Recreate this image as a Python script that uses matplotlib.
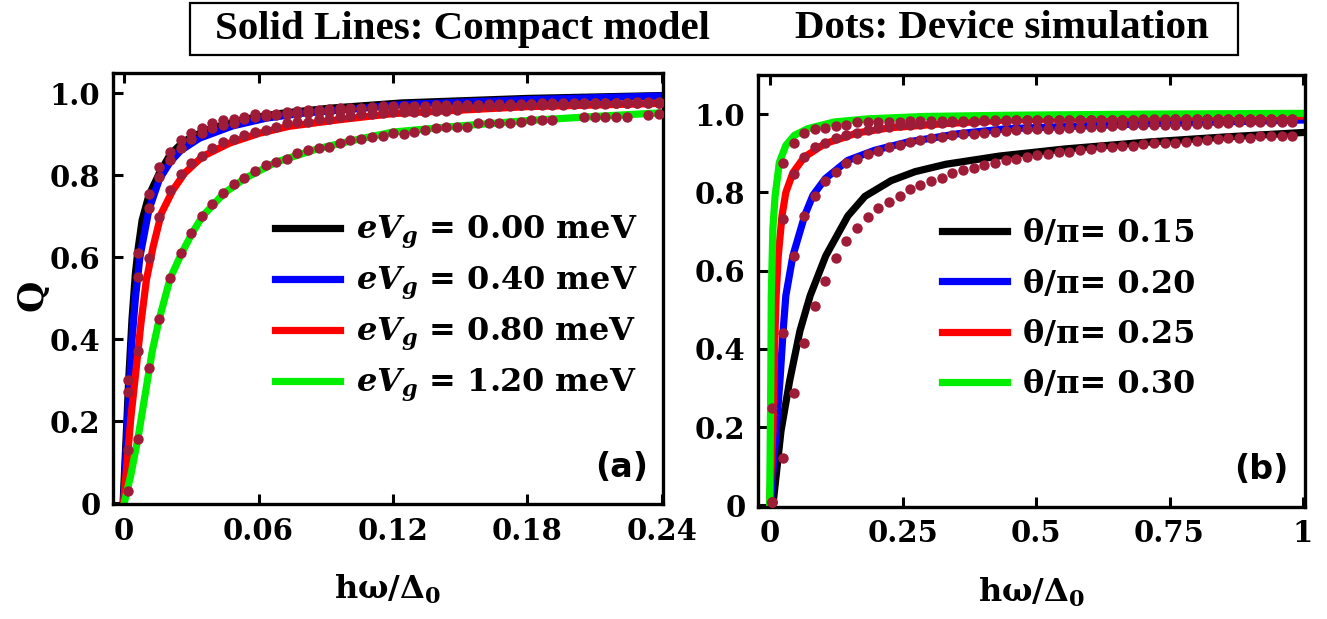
import numpy as np
import matplotlib
matplotlib.use('Agg')
import matplotlib.pyplot as plt
from matplotlib.patches import Rectangle

plt.rcParams['font.family'] = 'DejaVu Serif'
plt.rcParams['font.weight'] = 'bold'
plt.rcParams['mathtext.fontset'] = 'custom'
plt.rcParams['mathtext.rm'] = 'DejaVu Serif:bold'
plt.rcParams['mathtext.it'] = 'DejaVu Serif:italic:bold'
plt.rcParams['mathtext.bf'] = 'DejaVu Serif:bold'

nan = np.nan

# ---------------- panel (a): Q vs hw/D0 for several eVg ----------------
labels_a = ['$eV_g$ = 0.00 meV', '$eV_g$ = 0.40 meV', '$eV_g$ = 0.80 meV', '$eV_g$ = 1.20 meV']
colors = ['#000000', '#0000ff', '#ff0000', '#00ee00']

# compact model (solid lines)
xa_black = [-0.0005, 0.0012, 0.002, 0.0035, 0.005, 0.0062, 0.0080, 0.011, 0.0157, 0.0205, 0.0252,
            0.0299, 0.0394, 0.0544, 0.0692, 0.0914, 0.124, 0.18, 0.24]
qa_black = [0.0, 0.2, 0.3, 0.45, 0.56, 0.62, 0.69, 0.75, 0.805, 0.85, 0.875,
            0.893, 0.915, 0.937, 0.95, 0.963, 0.976, 0.987, 0.994]
xa_blue = [-0.0003, 0.0015, 0.0035, 0.005, 0.007, 0.011, 0.0157, 0.0205, 0.0252, 0.0336, 0.0484,
           0.0635, 0.0797, 0.106, 0.124, 0.18, 0.24]
qa_blue = [0.0, 0.2, 0.4, 0.5, 0.6, 0.715, 0.79, 0.832, 0.86, 0.89, 0.92,
           0.939, 0.951, 0.963, 0.972, 0.984, 0.993]
xa_red = [-0.0003, 0.003, 0.005, 0.0075, 0.0099, 0.0129, 0.0166, 0.0218, 0.027, 0.0351, 0.047,
          0.0603, 0.0736, 0.0959, 0.12, 0.18, 0.24]
qa_red = [0.0, 0.21, 0.31, 0.44, 0.544, 0.625, 0.707, 0.764, 0.805, 0.846, 0.878,
          0.902, 0.919, 0.935, 0.95, 0.967, 0.975]
xa_green = [0.0, 0.003, 0.0062, 0.0095, 0.0125, 0.0157, 0.0205, 0.0256, 0.0304, 0.035, 0.0444,
            0.0538, 0.068, 0.0868, 0.1058, 0.12, 0.15, 0.18, 0.21, 0.24]
qa_green = [0.0, 0.07, 0.16, 0.27, 0.37, 0.45, 0.548, 0.609, 0.659, 0.70, 0.755,
            0.792, 0.832, 0.865, 0.889, 0.905, 0.92, 0.933, 0.943, 0.952]

# device simulation (dots)
xd_a = [0.0015, 0.0062, 0.0110, 0.0157, 0.0205, 0.0252, 0.0299, 0.0347, 0.0394, 0.0442, 0.0489,
        0.0536, 0.0584, 0.0631, 0.0679, 0.0726, 0.0773, 0.0821, 0.0868, 0.0916, 0.0963, 0.1010,
        0.1058, 0.1105, 0.1153, 0.1200, 0.1247, 0.1295, 0.1342, 0.1390, 0.1437, 0.1484, 0.1532,
        0.1579, 0.1627, 0.1674, 0.1721, 0.1769, 0.1816, 0.1864, 0.1911, 0.1958, 0.2006, 0.2053,
        0.2101, 0.2148, 0.2195, 0.2243, 0.2290, 0.2338, 0.2385]
qd_a_black = [0.30, 0.611, 0.754, 0.820, 0.857, 0.885, 0.902, 0.914, 0.926, 0.934, 0.938,
              0.942, 0.950, 0.948, 0.950, 0.954, 0.957, 0.959, 0.959, 0.960, 0.963, 0.963,
              0.964, 0.967, 0.968, 0.968, 0.968, 0.969, 0.969, 0.970, 0.970, 0.971, 0.972,
              0.972, 0.973, 0.973, 0.974, 0.974, 0.974, 0.975, 0.975, 0.975, 0.976, 0.976,
              0.976, 0.977, 0.977, 0.977, 0.978, 0.978, 0.978]
qd_a_blue = [0.27, 0.552, 0.720, 0.796, 0.837, 0.865, 0.889, 0.902, 0.914, 0.922, 0.926,
             0.936, 0.942, 0.944, 0.946, 0.948, 0.950, 0.952, 0.954, 0.955, 0.957, 0.958,
             0.960, 0.961, 0.962, 0.963, 0.964, 0.965, 0.966, 0.967, 0.968, 0.969, 0.970,
             0.970, 0.971, 0.971, 0.972, 0.972, 0.973, 0.973, 0.974, 0.974, 0.974, 0.975,
             0.975, 0.975, 0.976, 0.976, 0.976, 0.977, 0.977]
qd_a_red = [0.129, 0.37, 0.597, 0.698, 0.763, 0.802, 0.830, 0.846, 0.865, 0.881, 0.889,
            0.898, 0.905, 0.910, 0.918, 0.928, 0.930, 0.930, 0.936, 0.938, 0.942, 0.944,
            0.948, 0.950, 0.952, 0.953, 0.953, 0.954, 0.955, 0.956, 0.957, 0.958, 0.966,
            0.967, 0.968, 0.968, 0.969, 0.970, 0.970, 0.971, 0.972, 0.972, 0.973, 0.973,
            0.974, 0.974, 0.975, 0.975, 0.976, 0.976, 0.977]
qd_a_green = [0.029, 0.157, 0.33, 0.45, 0.548, 0.609, 0.659, 0.700, 0.729, 0.757, 0.778,
              0.793, 0.810, 0.824, 0.832, 0.840, 0.853, 0.861, 0.865, 0.869, 0.879, 0.885,
              0.889, 0.893, 0.895, 0.902, 0.900, 0.906, 0.910, 0.914, 0.918, 0.918, 0.918,
              0.926, 0.926, 0.926, 0.926, 0.930, 0.934, 0.934, 0.934, nan, nan, 0.942,
              0.942, 0.942, 0.942, 0.942, nan, 0.946, 0.950]

# ---------------- panel (b): Q vs hw/D0 for several theta ----------------
labels_b = ['θ/π= 0.15', 'θ/π= 0.20', 'θ/π= 0.25', 'θ/π= 0.30']

xb_black = [0.0063, 0.0215, 0.0377, 0.057, 0.0762, 0.1055, 0.147, 0.179, 0.228, 0.273, 0.331,
            0.432, 0.554, 0.713, 0.858, 1.0]
qb_black = [0.0, 0.19, 0.318, 0.446, 0.536, 0.638, 0.74, 0.79, 0.83, 0.853, 0.872,
            0.893, 0.911, 0.929, 0.942, 0.953]
xb_blue = [0.0012, 0.0124, 0.0195, 0.0255, 0.0306, 0.0438, 0.066, 0.0812, 0.1045, 0.147, 0.198,
           0.26, 0.354, 0.447, 0.713, 1.0]
qb_blue = [0.0, 0.19, 0.318, 0.446, 0.536, 0.638, 0.741, 0.792, 0.835, 0.882, 0.908,
           0.929, 0.95, 0.963, 0.976, 0.985]
xb_red = [0.0, 0.0063, 0.0104, 0.0124, 0.0164, 0.0235, 0.0306, 0.0438, 0.065, 0.0853, 0.1045,
          0.139, 0.164, 0.225, 0.321, 0.443, 0.706, 1.0]
qb_red = [0.0, 0.19, 0.446, 0.536, 0.638, 0.741, 0.80, 0.85, 0.89, 0.908, 0.925,
          0.94, 0.952, 0.965, 0.975, 0.985, 0.992, 0.995]
xb_green = [0.0002, 0.0023, 0.0033, 0.0063, 0.0104, 0.0185, 0.0306, 0.0468, 0.0721, 0.1217, 0.185,
            0.291, 0.443, 0.706, 1.0]
qb_green = [0.0, 0.3, 0.536, 0.707, 0.79, 0.877, 0.92, 0.946, 0.963, 0.98, 0.988,
            0.994, 0.997, 1.0, 1.002]

xd_b = [0.005, 0.025, 0.045, 0.065, 0.085, 0.104, 0.124, 0.144, 0.164, 0.184, 0.204, 0.224, 0.244,
        0.264, 0.283, 0.303, 0.323, 0.343, 0.363, 0.383, 0.403, 0.423, 0.443, 0.463, 0.482, 0.502,
        0.522, 0.542, 0.562, 0.582, 0.602, 0.622, 0.642, 0.661, 0.681, 0.701, 0.721, 0.741, 0.761,
        0.781, 0.801, 0.821, 0.840, 0.860, 0.880, 0.900, 0.920, 0.940, 0.960, 0.979]
qd_b_black = [0.01, 0.12, 0.287, 0.415, 0.51, 0.574, 0.633, 0.677, 0.71, 0.736, 0.759, 0.775, 0.792,
              0.808, 0.82, 0.828, 0.838, 0.849, 0.856, 0.862, 0.869, 0.874, 0.882, 0.886, 0.891,
              0.895, 0.899, 0.902, 0.903, 0.908, 0.912, 0.915, 0.915, 0.919, 0.919, 0.923, 0.927,
              0.927, 0.927, 0.929, 0.932, 0.935, 0.936, 0.938, 0.939, 0.940, 0.944, 0.944, 0.944,
              0.944]
qd_b_blue = [0.01, 0.44, 0.638, 0.74, 0.79, 0.828, 0.853, 0.874, 0.886, 0.897, 0.906, 0.915, 0.922,
             0.929, 0.933, 0.938, 0.942, 0.946, 0.948, 0.950, 0.953, 0.955, 0.956, 0.959, 0.961,
             0.961, 0.963, 0.963, 0.965, 0.965, 0.968, 0.968, 0.969, 0.972, 0.972, 0.972, 0.972,
             0.973, 0.973, 0.973, 0.976, 0.976, 0.978, 0.978, 0.979, 0.979, 0.980, 0.980, 0.981,
             0.981]
qd_b_red = [0.01, 0.733, 0.846, 0.891, 0.915, 0.926, 0.939, 0.946, 0.953, 0.959, 0.965, 0.968, 0.972,
            0.973, 0.976, 0.976, 0.977, 0.980, 0.981, 0.981, 0.983, 0.983, 0.983, 0.984, 0.984,
            0.984, 0.985, 0.985, 0.985, 0.985, 0.985, 0.986, 0.986, 0.986, 0.986, 0.986, 0.986,
            0.986, 0.987, 0.987, 0.987, 0.987, 0.987, 0.987, 0.987, 0.987, 0.987, 0.987, 0.987,
            0.987]
qd_b_green = [0.25, 0.874, 0.926, 0.951, 0.962, 0.964, 0.970, 0.972, 0.980, 0.980, 0.980, 0.981,
              0.981, 0.982, 0.982, 0.982, 0.983, 0.983, 0.983, 0.983, 0.984, 0.984, 0.984, 0.984,
              0.985, 0.985, 0.985, 0.985, 0.985, 0.986, 0.986, 0.986, 0.986, 0.986, 0.986, 0.987,
              0.987, 0.987, 0.987, 0.987, 0.987, 0.987, 0.988, 0.988, 0.988, 0.988, 0.988, 0.988,
              0.988, 0.988]

dot_color = '#9e1c38'
lw = 5.2
ms = 7.5
tick_font = 21
leg_font = 23


def style_axes(ax):
    for side in ['left', 'bottom', 'top', 'right']:
        ax.spines[side].set_linewidth(2.4)
    ax.tick_params(direction='in', top=True, right=False, length=7, width=2.2,
                   labelsize=tick_font, pad=9)
    for lab in ax.get_xticklabels() + ax.get_yticklabels():
        lab.set_fontweight('bold')


fig = plt.figure(figsize=(13.27, 6.19), dpi=100)

# ---- panel (a)
ax1 = fig.add_axes([113 / 1327, 1 - 504 / 619, 550 / 1327, 431 / 619])
ax1.plot(xa_black, qa_black, color=colors[0], lw=lw, label=labels_a[0])
ax1.plot(xa_blue, qa_blue, color=colors[1], lw=lw, label=labels_a[1])
ax1.plot(xa_red, qa_red, color=colors[2], lw=lw, label=labels_a[2])
ax1.plot(xa_green, qa_green, color=colors[3], lw=lw, label=labels_a[3])
for q in [qd_a_black, qd_a_blue, qd_a_red, qd_a_green]:
    ax1.plot(xd_a, q, 'o', color=dot_color, ms=ms, mec='none', zorder=5)
ax1.set_xlim(-0.005, 0.2405)
ax1.set_ylim(-0.002, 1.049)
ax1.set_xticks([0, 0.06, 0.12, 0.18, 0.24])
ax1.set_xticklabels(['0', '0.06', '0.12', '0.18', '0.24'])
ax1.set_yticks([0, 0.2, 0.4, 0.6, 0.8, 1.0])
ax1.set_yticklabels(['0', '0.2', '0.4', '0.6', '0.8', '1.0'])
style_axes(ax1)
ax1.set_ylabel('Q', fontsize=26, fontweight='bold')
ax1.yaxis.set_label_coords(-0.115, 0.485)
ax1.set_xlabel('hω/Δ$_0$', fontsize=23, fontweight='bold', labelpad=20)
ax1.legend(loc='center left', bbox_to_anchor=(0.295, 0.452), frameon=False, fontsize=leg_font,
           handlelength=2.04, handletextpad=0.5, labelspacing=0.43, borderpad=0, borderaxespad=0)
ax1.text(0.925, 0.084, '(a)', transform=ax1.transAxes, family='DejaVu Sans', fontweight='bold',
         fontsize=24, ha='center', va='center')

# ---- panel (b)
ax2 = fig.add_axes([758 / 1327, 1 - 507 / 619, 547 / 1327, 432 / 619])
ax2.plot(xb_black, qb_black, color=colors[0], lw=lw, label=labels_b[0])
ax2.plot(xb_blue, qb_blue, color=colors[1], lw=lw, label=labels_b[1])
ax2.plot(xb_red, qb_red, color=colors[2], lw=lw, label=labels_b[2])
ax2.plot(xb_green, qb_green, color=colors[3], lw=lw, label=labels_b[3])
for q in [qd_b_black, qd_b_blue, qd_b_red, qd_b_green]:
    ax2.plot(xd_b, q, 'o', color=dot_color, ms=ms, mec='none', zorder=5)
ax2.set_xlim(-0.0216, 1.004)
ax2.set_ylim(-0.004, 1.1)
ax2.set_xticks([0, 0.25, 0.5, 0.75, 1.0])
ax2.set_xticklabels(['0', '0.25', '0.5', '0.75', '1'])
ax2.set_yticks([0, 0.2, 0.4, 0.6, 0.8, 1.0])
ax2.set_yticklabels(['0', '0.2', '0.4', '0.6', '0.8', '1.0'])
style_axes(ax2)
ax2.set_xlabel('hω/Δ$_0$', fontsize=23, fontweight='bold', labelpad=20)
ax2.legend(loc='center left', bbox_to_anchor=(0.336, 0.458), frameon=False, fontsize=leg_font,
           handlelength=2.04, handletextpad=0.5, labelspacing=0.6, borderpad=0, borderaxespad=0)
ax2.text(0.921, 0.086, '(b)', transform=ax2.transAxes, family='DejaVu Sans', fontweight='bold',
         fontsize=24, ha='center', va='center')

# ---- header box
fig.patches.append(Rectangle((190 / 1327, 1 - 55 / 619), 1048 / 1327, 52 / 619,
                             transform=fig.transFigure, fill=False, lw=1.6, ec='black'))
fig.text(215 / 1327, 1 - 29 / 619, 'Solid Lines: Compact model', family='Liberation Serif',
         fontweight='bold', fontsize=29.5, va='center')
fig.text(795 / 1327, 1 - 29 / 619, 'Dots: Device simulation', family='Liberation Serif',
         fontweight='bold', fontsize=29.5, va='center')

fig.savefig('out.png', dpi=100)
